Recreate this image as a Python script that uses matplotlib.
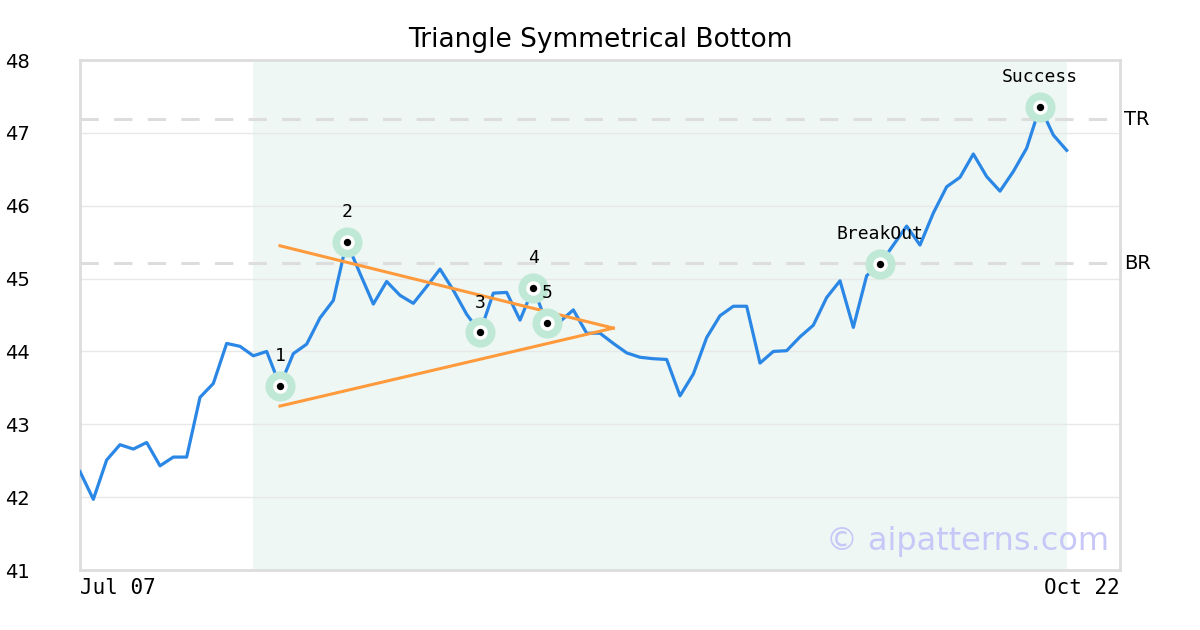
import matplotlib
matplotlib.use('Agg')
import matplotlib.pyplot as plt

# price series, one value per trading day
prices = [42.35, 41.97, 42.51, 42.72, 42.66, 42.75, 42.43, 42.55, 42.55, 43.37,
          43.56, 44.11, 44.07, 43.94, 44.00, 43.53, 43.97, 44.10, 44.46, 44.70,
          45.50, 45.07, 44.65, 44.96, 44.77, 44.66, 44.89, 45.13, 44.84, 44.51,
          44.26, 44.80, 44.81, 44.43, 44.87, 44.39, 44.41, 44.57, 44.25, 44.25,
          44.11, 43.98, 43.92, 43.90, 43.89, 43.39, 43.69, 44.19, 44.49, 44.62,
          44.62, 43.84, 44.00, 44.01, 44.20, 44.36, 44.74, 44.97, 44.33, 45.04,
          45.20, 45.46, 45.72, 45.46, 45.90, 46.26, 46.39, 46.71, 46.40, 46.20,
          46.47, 46.79, 47.36, 46.97, 46.76]
x = list(range(len(prices)))

# pattern points
point_idx = [15, 20, 30, 34, 35, 60, 72]
point_labels = ['1', '2', '3', '4', '5', 'BreakOut', 'Success']

# triangle lines
upper_x = [15, 40]
upper_y = [45.45, 44.32]
lower_x = [15, 40]
lower_y = [43.25, 44.32]

tr_level = 47.19
br_level = 45.21
shade_start, shade_end = 13, 74
x_max = 78
x_labels = ['Jul 07', 'Oct 22']

fig = plt.figure(figsize=(12, 6.3), dpi=100)
ax = fig.add_axes([80/1200, 60/630, 1040/1200, 510/630])

ax.axvspan(shade_start, shade_end, color='#eef7f3', zorder=0, lw=0)
for v in range(42, 48):
    ax.axhline(v, color='#e8e8e8', lw=1, zorder=1)
for lvl in [tr_level, br_level]:
    ax.axhline(lvl, color='#dddddd', lw=2.2, dashes=(6, 5), zorder=1)

ax.plot(x, prices, color='#2b87e6', lw=2.3, zorder=3)
ax.plot(upper_x, upper_y, color='#ff9a3c', lw=2.2, zorder=4)
ax.plot(lower_x, lower_y, color='#ff9a3c', lw=2.2, zorder=4)

px = [x[i] for i in point_idx]
py = [prices[i] for i in point_idx]
ax.scatter(px, py, s=470, color='#bfe9d6', zorder=5, lw=0)
ax.scatter(px, py, s=110, color='white', zorder=6, lw=0)
ax.scatter(px, py, s=28, color='black', zorder=7, lw=0)
for xi, yi, lab in zip(px, py, point_labels):
    ax.annotate(lab, (xi, yi), xytext=(0, 21.5), textcoords='offset points',
                ha='center', va='center', fontsize=13, family='DejaVu Sans Mono', zorder=8)

ax.text(1.004, tr_level, 'TR', transform=ax.get_yaxis_transform(), fontsize=14,
        va='center', ha='left')
ax.text(1.004, br_level, 'BR', transform=ax.get_yaxis_transform(), fontsize=14,
        va='center', ha='left')

ax.text(0.99, 0.055, '© aipatterns.com', transform=ax.transAxes, fontsize=23,
        color='#c8c8f8', ha='right', va='center', zorder=9)

ax.set_xlim(0, x_max)
ax.set_ylim(41, 48)
ax.set_yticks(range(41, 49))
ax.tick_params(axis='y', length=0, pad=36, labelsize=14)
ax.set_xticks([0, x_max])
ax.set_xticklabels(x_labels, family='DejaVu Sans Mono', fontsize=15)
ax.tick_params(axis='x', length=0, pad=6)
xl = ax.get_xticklabels()
xl[0].set_ha('left')
xl[1].set_ha('right')

for s in ax.spines.values():
    s.set_color('#dddddd')
    s.set_linewidth(2)

fig.suptitle('Triangle Symmetrical Bottom', x=0.5, y=1 - 40/630, va='center', fontsize=19)
fig.savefig('out.png', dpi=100)
